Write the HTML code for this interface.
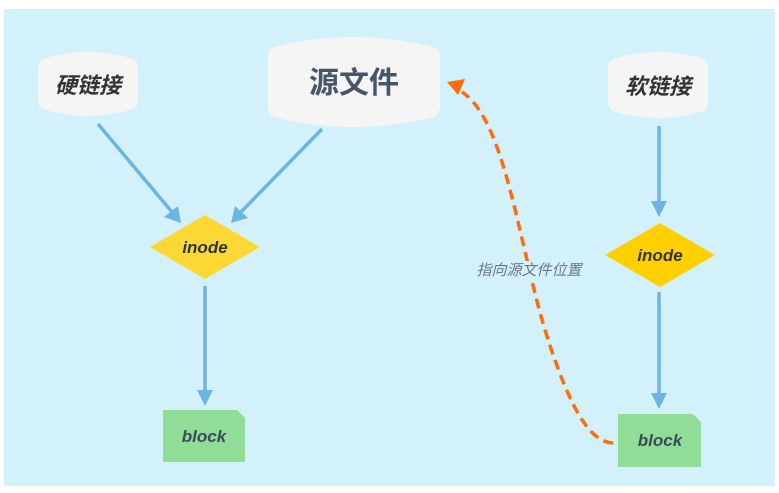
<!DOCTYPE html>
<html><head><meta charset="utf-8"><style>
html,body{margin:0;padding:0;background:#fff;}
svg{display:block;}
text{font-family:"Liberation Sans","Noto Sans CJK SC",sans-serif;}
</style></head><body>
<svg width="779" height="493" viewBox="0 0 779 493" xmlns="http://www.w3.org/2000/svg">
<rect x="4" y="9" width="771" height="477" fill="#d3f1fb"/>
<!-- nodes -->
<path d="M38,68 Q38,60 46,58 Q88,46 130,58 Q138,60 138,68 L138,100 Q138,108 130,110 Q88,122 46,110 Q38,108 38,100 Z" fill="#f5f5f5"/>
<text x="88" y="93" font-size="22" font-weight="bold" font-style="italic" fill="#333" text-anchor="middle">硬链接</text>
<path d="M268,56 Q268,48 278,46 Q354,28 430,46 Q440,48 440,56 L440,108 Q440,116 430,118 Q354,136 278,118 Q268,116 268,108 Z" fill="#f5f5f5"/>
<text x="354" y="93" font-size="30" font-weight="bold" fill="#475569" text-anchor="middle">源文件</text>
<path d="M608,68 Q608,60 616,58 Q658,46 700,58 Q708,60 708,68 L708,102 Q708,110 700,112 Q658,124 616,112 Q608,110 608,102 Z" fill="#f5f5f5"/>
<text x="658" y="94" font-size="22" font-weight="bold" font-style="italic" fill="#333" text-anchor="middle">软链接</text>
<polygon points="150,247 205,215 260,247 205,279" fill="#fdd835"/>
<text x="205" y="253" font-size="17" font-weight="bold" font-style="italic" fill="#333" text-anchor="middle">inode</text>
<polygon points="605,255 660,223 715,255 660,287" fill="#ffd000"/>
<text x="660" y="261" font-size="17" font-weight="bold" font-style="italic" fill="#333" text-anchor="middle">inode</text>
<polygon points="163,410 237,410 245,418 245,462 163,462" fill="#90dd98"/>
<text x="204" y="442" font-size="17" font-weight="bold" font-style="italic" fill="#3f4a5a" text-anchor="middle">block</text>
<polygon points="618,414 693,414 701,422 701,467 618,467" fill="#90dd98"/>
<text x="660" y="446" font-size="17" font-weight="bold" font-style="italic" fill="#3f4a5a" text-anchor="middle">block</text>
<!-- blue arrows -->
<g stroke="#6cb4e4" stroke-width="3.5" fill="none">
<line x1="98" y1="124" x2="172" y2="212"/>
<line x1="322" y1="129" x2="241" y2="212"/>
<line x1="205" y1="286" x2="205" y2="392"/>
<line x1="659" y1="126" x2="659" y2="203"/>
<line x1="659" y1="292" x2="659" y2="395"/>
</g>
<g fill="#6cb4e4">
<polygon points="181,223 164,217 178,206"/>
<polygon points="231,223 235,206 248,218"/>
<polygon points="205,406 197,390 213,390"/>
<polygon points="659,217 651,201 667,201"/>
<polygon points="659,409 651,393 667,393"/>
</g>
<!-- orange dashed -->
<path d="M613,443 C590,442 570,410 545,330 C518,240 505,120 462,92" stroke="#ff6d0a" stroke-width="3.5" fill="none" stroke-dasharray="10,6"/>
<rect x="474" y="261" width="112" height="17" fill="#d3f1fb"/>
<polygon points="447,82 465,79 458,95" fill="#ff6d0a"/>
<text x="529" y="275" font-size="15" font-style="italic" fill="#6b7785" text-anchor="middle">指向源文件位置</text>
</svg>
</body></html>
